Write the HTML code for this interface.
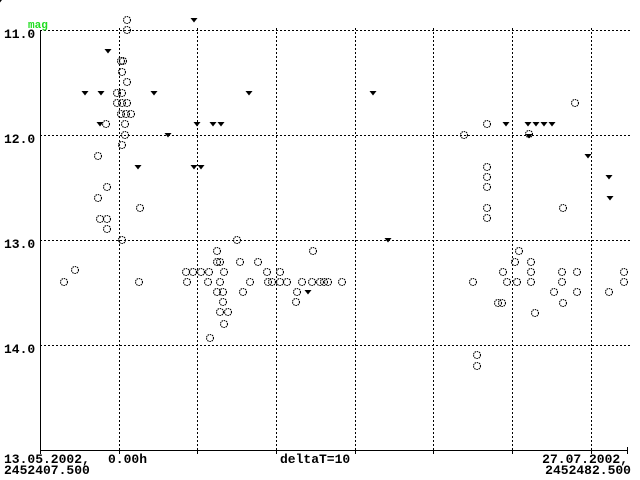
<!DOCTYPE html>
<html><head><meta charset="utf-8"><style>
html,body{margin:0;padding:0;background:#fff;}
svg{display:block;}
text{font-family:"Liberation Mono",monospace;font-weight:bold;font-size:13px;fill:#000;}
</style></head><body>
<svg width="640" height="480" viewBox="0 0 640 480" xmlns="http://www.w3.org/2000/svg">
<g stroke="#000" stroke-width="1" stroke-dasharray="2,2" fill="none">
<line x1="40" y1="30.5" x2="632" y2="30.5"/>
<line x1="40" y1="135.5" x2="632" y2="135.5"/>
<line x1="40" y1="240.5" x2="632" y2="240.5"/>
<line x1="40" y1="345.5" x2="632" y2="345.5"/>
<line x1="119.5" y1="28" x2="119.5" y2="450"/>
<line x1="197.5" y1="28" x2="197.5" y2="450"/>
<line x1="276.5" y1="28" x2="276.5" y2="450"/>
<line x1="355.5" y1="28" x2="355.5" y2="450"/>
<line x1="433.5" y1="28" x2="433.5" y2="450"/>
<line x1="512.5" y1="28" x2="512.5" y2="450"/>
<line x1="591.5" y1="28" x2="591.5" y2="450"/>
</g>
<g stroke="#000" stroke-width="1">
<line x1="40.5" y1="30" x2="40.5" y2="450"/>
<line x1="40" y1="450.5" x2="628" y2="450.5"/>
<line x1="40.5" y1="450" x2="40.5" y2="454"/>
<line x1="119.5" y1="450" x2="119.5" y2="454"/>
<line x1="197.5" y1="450" x2="197.5" y2="454"/>
<line x1="276.5" y1="450" x2="276.5" y2="454"/>
<line x1="355.5" y1="450" x2="355.5" y2="454"/>
<line x1="433.5" y1="450" x2="433.5" y2="454"/>
<line x1="512.5" y1="450" x2="512.5" y2="454"/>
<line x1="591.5" y1="450" x2="591.5" y2="454"/>
<line x1="627.5" y1="447" x2="627.5" y2="454"/>
</g>
<text x="28" y="28" style="fill:#22dd22;font-size:11px">mag</text>
<text x="4" y="38">11.0</text>
<text x="4" y="143">12.0</text>
<text x="4" y="248">13.0</text>
<text x="4" y="353">14.0</text>
<text x="4" y="463">13.05.2002,</text>
<text x="4" y="474">2452407.500</text>
<text x="108" y="463">0.00h</text>
<text x="280" y="463">deltaT=10</text>
<text x="628" y="463" text-anchor="end">27.07.2002,</text>
<text x="631" y="474" text-anchor="end">2452482.500</text>
<g fill="none" stroke="#000" stroke-width="1.1" stroke-dasharray="1.5,0.8">
<circle cx="127" cy="20" r="3.5"/><circle cx="127" cy="30" r="3.5"/>
<circle cx="121" cy="61" r="3.5"/><circle cx="123" cy="61" r="3.5"/>
<circle cx="122" cy="72" r="3.5"/><circle cx="127" cy="82" r="3.5"/>
<circle cx="117" cy="93" r="3.5"/><circle cx="122" cy="93" r="3.5"/>
<circle cx="117" cy="103" r="3.5"/><circle cx="122" cy="103" r="3.5"/><circle cx="127" cy="103" r="3.5"/>
<circle cx="121" cy="114" r="3.5"/><circle cx="126" cy="114" r="3.5"/><circle cx="131" cy="114" r="3.5"/>
<circle cx="106" cy="124" r="3.5"/><circle cx="125" cy="124" r="3.5"/>
<circle cx="125" cy="135" r="3.5"/><circle cx="122" cy="145" r="3.5"/>
<circle cx="98" cy="156" r="3.5"/><circle cx="107" cy="187" r="3.5"/>
<circle cx="98" cy="198" r="3.5"/><circle cx="140" cy="208" r="3.5"/>
<circle cx="100" cy="219" r="3.5"/><circle cx="107" cy="219" r="3.5"/>
<circle cx="107" cy="229" r="3.5"/><circle cx="122" cy="240" r="3.5"/>
<circle cx="64" cy="282" r="3.5"/><circle cx="75" cy="270" r="3.5"/><circle cx="139" cy="282" r="3.5"/>
<circle cx="237" cy="240" r="3.5"/><circle cx="217" cy="251" r="3.5"/><circle cx="313" cy="251" r="3.5"/>
<circle cx="217" cy="262" r="3.5"/><circle cx="220" cy="262" r="3.5"/><circle cx="240" cy="262" r="3.5"/><circle cx="258" cy="262" r="3.5"/>
<circle cx="186" cy="272" r="3.5"/><circle cx="193" cy="272" r="3.5"/><circle cx="201" cy="272" r="3.5"/><circle cx="209" cy="272" r="3.5"/><circle cx="224" cy="272" r="3.5"/><circle cx="267" cy="272" r="3.5"/><circle cx="280" cy="272" r="3.5"/>
<circle cx="187" cy="282" r="3.5"/><circle cx="208" cy="282" r="3.5"/><circle cx="220" cy="282" r="3.5"/><circle cx="250" cy="282" r="3.5"/><circle cx="268" cy="282" r="3.5"/><circle cx="272" cy="282" r="3.5"/><circle cx="280" cy="282" r="3.5"/><circle cx="287" cy="282" r="3.5"/><circle cx="302" cy="282" r="3.5"/><circle cx="312" cy="282" r="3.5"/><circle cx="320" cy="282" r="3.5"/><circle cx="324" cy="282" r="3.5"/><circle cx="328" cy="282" r="3.5"/><circle cx="342" cy="282" r="3.5"/>
<circle cx="217" cy="292" r="3.5"/><circle cx="223" cy="292" r="3.5"/><circle cx="243" cy="292" r="3.5"/><circle cx="297" cy="292" r="3.5"/>
<circle cx="223" cy="302" r="3.5"/><circle cx="296" cy="302" r="3.5"/>
<circle cx="220" cy="312" r="3.5"/><circle cx="228" cy="312" r="3.5"/>
<circle cx="224" cy="324" r="3.5"/><circle cx="210" cy="338" r="3.5"/>
<circle cx="575" cy="103" r="3.5"/><circle cx="487" cy="124" r="3.5"/><circle cx="464" cy="135" r="3.5"/><circle cx="529" cy="134" r="3.5"/>
<circle cx="487" cy="167" r="3.5"/><circle cx="487" cy="177" r="3.5"/><circle cx="487" cy="187" r="3.5"/><circle cx="487" cy="208" r="3.5"/><circle cx="487" cy="218" r="3.5"/><circle cx="563" cy="208" r="3.5"/>
<circle cx="519" cy="251" r="3.5"/><circle cx="515" cy="262" r="3.5"/><circle cx="531" cy="262" r="3.5"/>
<circle cx="503" cy="272" r="3.5"/><circle cx="531" cy="272" r="3.5"/><circle cx="562" cy="272" r="3.5"/><circle cx="577" cy="272" r="3.5"/><circle cx="624" cy="272" r="3.5"/>
<circle cx="473" cy="282" r="3.5"/><circle cx="507" cy="282" r="3.5"/><circle cx="517" cy="282" r="3.5"/><circle cx="531" cy="282" r="3.5"/><circle cx="562" cy="282" r="3.5"/><circle cx="624" cy="282" r="3.5"/>
<circle cx="554" cy="292" r="3.5"/><circle cx="577" cy="292" r="3.5"/><circle cx="609" cy="292" r="3.5"/>
<circle cx="498" cy="303" r="3.5"/><circle cx="502" cy="303" r="3.5"/><circle cx="563" cy="303" r="3.5"/><circle cx="535" cy="313" r="3.5"/>
<circle cx="477" cy="355" r="3.5"/><circle cx="477" cy="366" r="3.5"/>
</g>
<g fill="#000">
<path id="t" d="M-3.5,-2 L3.5,-2 L0,2.5 Z"/>
<use href="#t" x="194" y="20"/><use href="#t" x="108" y="51"/>
<use href="#t" x="85" y="93"/><use href="#t" x="101" y="93"/><use href="#t" x="154" y="93"/><use href="#t" x="249" y="93"/><use href="#t" x="373" y="93"/>
<use href="#t" x="100" y="124"/><use href="#t" x="197" y="124"/><use href="#t" x="213" y="124"/><use href="#t" x="221" y="124"/>
<use href="#t" x="168" y="135"/><use href="#t" x="138" y="167"/><use href="#t" x="194" y="167"/><use href="#t" x="201" y="167"/>
<use href="#t" x="388" y="240"/><use href="#t" x="308" y="292"/>
<use href="#t" x="506" y="124"/><use href="#t" x="528" y="124"/><use href="#t" x="536" y="124"/><use href="#t" x="544" y="124"/><use href="#t" x="552" y="124"/>
<use href="#t" x="529" y="136"/><use href="#t" x="588" y="156"/><use href="#t" x="609" y="177"/><use href="#t" x="610" y="198"/>
</g>
</svg>
</body></html>
